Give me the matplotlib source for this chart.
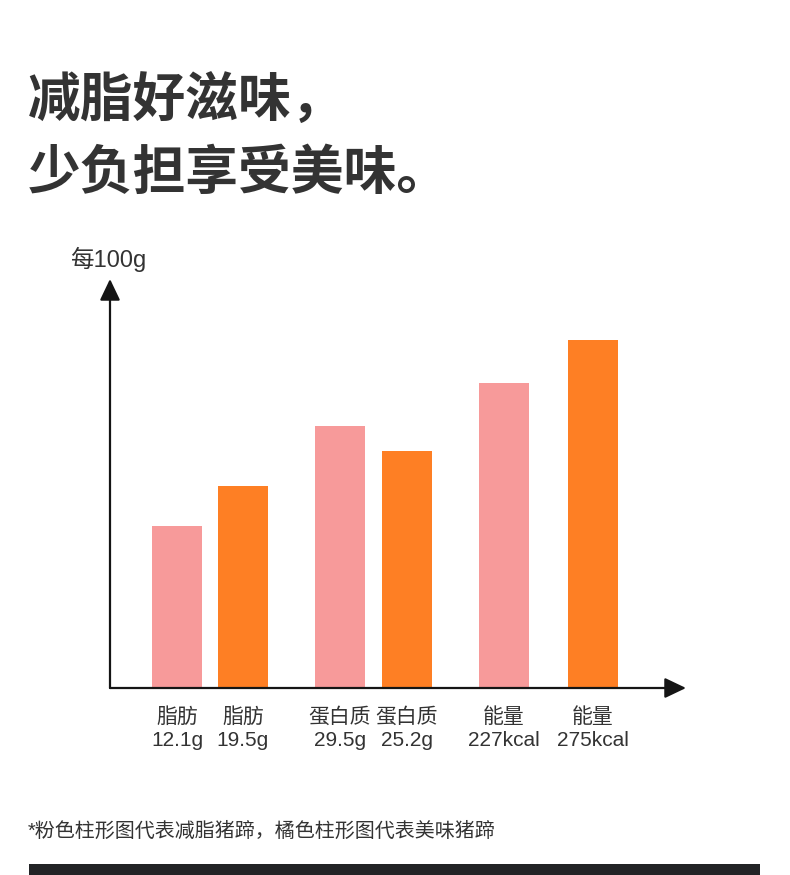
import matplotlib
matplotlib.use('Agg')
import matplotlib.pyplot as plt

plt.rcParams['font.family'] = ['Liberation Sans', 'Noto Sans CJK SC']

# data
nutrients = ['脂肪', '蛋白质', '能量']
units = ['g', 'g', 'kcal']
low_fat = [12.1, 29.5, 227]      # pink bars
regular = [19.5, 25.2, 275]      # orange bars
# drawn bar heights (the chart is not to scale)
low_fat_height = [162, 262, 305]
regular_height = [202, 237, 348]

# layout (pixels from the y axis)
low_fat_x = [67, 230, 394]
regular_x = [133, 297, 483]

W, H = 790, 875
PINK = '#F79A9A'
ORANGE = '#FE7F24'
TXT = '#333333'
AXC = '#151515'
CJK = ['Noto Sans CJK SC', 'DejaVu Sans']

fig = plt.figure(figsize=(W / 100, H / 100), dpi=100)
fig.patch.set_facecolor('white')

# headline
fig.text(28 / W, 1 - 101 / H, '减脂好滋味，', fontsize=38, fontweight='bold',
         color=TXT, ha='left', va='center', family=CJK)
fig.text(28 / W, 1 - 173 / H, '少负担享受美味。', fontsize=38, fontweight='bold',
         color=TXT, ha='left', va='center', family=CJK)

# chart area
x0, y0, x1, y1 = 110, 688, 686, 279
ax = fig.add_axes([x0 / W, 1 - y0 / H, (x1 - x0) / W, (y0 - y1) / H])
ax.set_xlim(0, x1 - x0)
ax.set_ylim(0, y0 - y1)

ax.bar(low_fat_x, low_fat_height, width=50, color=PINK, zorder=2)
ax.bar(regular_x, regular_height, width=50, color=ORANGE, zorder=2)

for sp in ax.spines.values():
    sp.set_visible(False)
ax.set_yticks([])

arrow = dict(arrowstyle='-|>,head_length=1.3,head_width=0.62', lw=1.6,
             color=AXC, mutation_scale=10, shrinkA=0, shrinkB=0)
ax.annotate('', xy=(1, 0), xytext=(0, 0), xycoords='axes fraction',
            arrowprops=arrow, annotation_clip=False)
ax.annotate('', xy=(0, 1), xytext=(0, 0), xycoords='axes fraction',
            arrowprops=arrow, annotation_clip=False)

ticks, labels = [], []
for i in range(len(nutrients)):
    ticks += [low_fat_x[i], regular_x[i]]
    labels += ['%s\n%g%s' % (nutrients[i], low_fat[i], units[i]),
               '%s\n%g%s' % (nutrients[i], regular[i], units[i])]
ax.set_xticks(ticks, labels)
ax.tick_params(axis='x', length=0, pad=14, labelsize=15, labelcolor=TXT)
for t in ax.get_xticklabels():
    t.set_linespacing(1.25)

fig.text(70 / W, 1 - 259 / H, '每100g', fontsize=17, color=TXT,
         ha='left', va='center')

# footnote
fig.text(28 / W, 1 - 831 / H, '*粉色柱形图代表减脂猪蹄，橘色柱形图代表美味猪蹄',
         fontsize=14.4, color=TXT, ha='left', va='center')

# dark strip at the bottom
strip = fig.add_axes([29 / W, 0, (760 - 29) / W, 11 / H])
strip.set_facecolor('#222326')
strip.set_xticks([])
strip.set_yticks([])
for sp in strip.spines.values():
    sp.set_visible(False)

fig.savefig('out.png', dpi=100, facecolor='white')
plt.close(fig)
